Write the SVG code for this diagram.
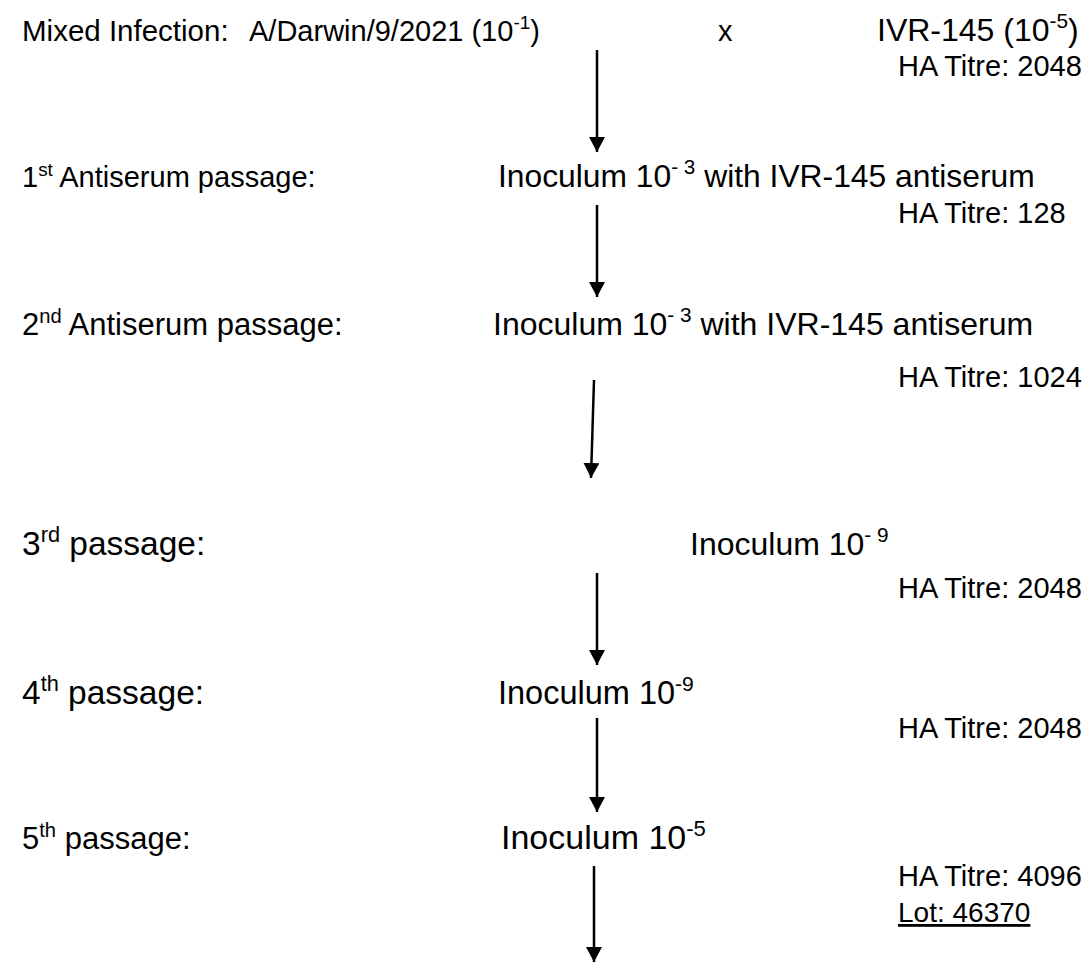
<svg xmlns="http://www.w3.org/2000/svg" width="1086" height="962" viewBox="0 0 1086 962">
<style>
  text { font-family: "Liberation Sans", Arial, sans-serif; font-size: 29px; fill: #000; }
  .r { font-size: 29px; }
  .sup { font-size: 65%; }
  .conn line { stroke: #000; stroke-width: 2.5; fill: none; }
</style>
<defs>
  <marker id="ah" markerUnits="userSpaceOnUse" markerWidth="16" markerHeight="16" refX="15" refY="8" orient="auto">
    <path d="M0,0 L15,8 L0,16 Z" fill="#000"/>
  </marker>
</defs>
<rect width="1086" height="962" fill="#fff"/>

<g id="row1">
  <text x="22" y="41" style="font-size:29.5px">Mixed Infection:</text>
  <text x="249" y="41">A/Darwin/9/2021 (10<tspan class="sup" dy="-12">-1</tspan><tspan dy="12">)</tspan></text>
  <text x="718" y="41">x</text>
  <text x="877" y="41" style="font-size:32px">IVR-145 (10<tspan class="sup" dy="-13">-5</tspan><tspan dy="13">)</tspan></text>
  <text class="r" x="898" y="76">HA Titre: 2048</text>
</g>

<g id="row2">
  <text x="22" y="187" style="font-size:29px">1<tspan class="sup" dy="-11">st</tspan><tspan dy="11"> Antiserum passage:</tspan></text>
  <text x="498" y="187" style="font-size:31.8px">Inoculum 10<tspan class="sup" dy="-13">- 3</tspan><tspan dy="13"> with IVR-145 antiserum</tspan></text>
  <text class="r" x="898" y="223">HA Titre: 128</text>
</g>

<g id="row3">
  <text x="22" y="335" style="font-size:31px">2<tspan class="sup" dy="-12">nd</tspan><tspan dy="12"> Antiserum passage:</tspan></text>
  <text x="493" y="335" style="font-size:32px">Inoculum 10<tspan class="sup" dy="-13">- 3</tspan><tspan dy="13"> with IVR-145 antiserum</tspan></text>
  <text class="r" x="898" y="387">HA Titre: 1024</text>
</g>

<g id="row4">
  <text x="22" y="555" style="font-size:33.5px">3<tspan class="sup" dy="-13">rd</tspan><tspan dy="13"> passage:</tspan></text>
  <text x="690" y="555" style="font-size:32px">Inoculum 10<tspan class="sup" dy="-13">- 9</tspan></text>
  <text class="r" x="898" y="598">HA Titre: 2048</text>
</g>

<g id="row5">
  <text x="22" y="704" style="font-size:33.5px">4<tspan class="sup" dy="-13">th</tspan><tspan dy="13"> passage:</tspan></text>
  <text x="498" y="704" style="font-size:32.5px">Inoculum 10<tspan class="sup" dy="-13">-9</tspan></text>
  <text class="r" x="898" y="738">HA Titre: 2048</text>
</g>

<g id="row6">
  <text x="22" y="849" style="font-size:31px">5<tspan class="sup" dy="-12">th</tspan><tspan dy="12"> passage:</tspan></text>
  <text x="501" y="849" style="font-size:34px">Inoculum 10<tspan class="sup" dy="-13">-5</tspan></text>
  <text class="r" x="898" y="886">HA Titre: 4096</text>
  <text x="898" y="922" style="font-size:28px" text-decoration="underline">Lot: 46370</text>
</g>

<g id="connectors" class="conn">
  <line x1="597" y1="50" x2="597" y2="152" marker-end="url(#ah)"/>
  <line x1="597" y1="205" x2="597" y2="297" marker-end="url(#ah)"/>
  <line x1="594" y1="380" x2="591" y2="478" marker-end="url(#ah)"/>
  <line x1="597" y1="573" x2="597" y2="665" marker-end="url(#ah)"/>
  <line x1="597" y1="718" x2="597" y2="812" marker-end="url(#ah)"/>
  <line x1="594" y1="866" x2="594" y2="962" marker-end="url(#ah)"/>
</g>
</svg>
